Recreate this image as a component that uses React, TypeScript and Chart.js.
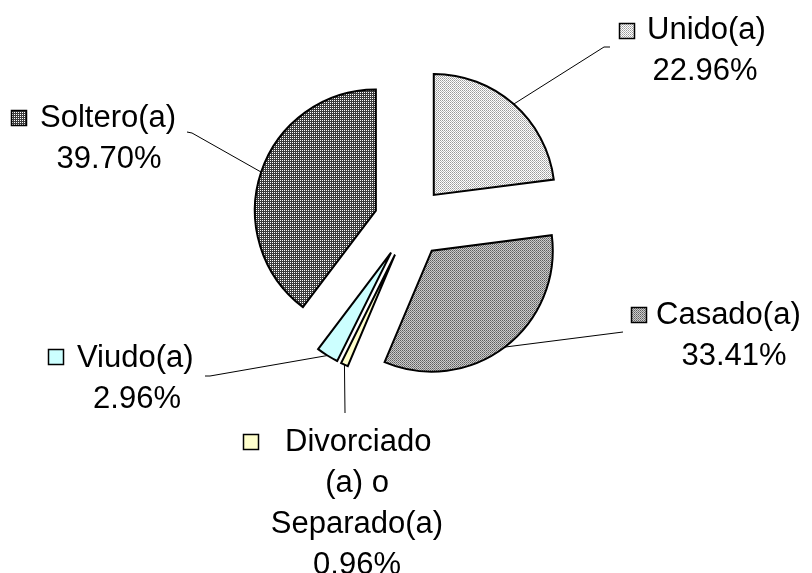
import React, { useEffect, useRef } from "react";
import { Chart, registerables } from "chart.js";

Chart.register(...registerables);

// ---- data ----
const categories = ["Unido(a)", "Casado(a)", "Divorciado (a) o Separado(a)", "Viudo(a)", "Soltero(a)"];
const categoryLines = [["Unido(a)"], ["Casado(a)"], ["Divorciado", "(a) o", "Separado(a)"], ["Viudo(a)"], ["Soltero(a)"]];
const values = [22.96, 33.41, 0.96, 2.96, 39.7];
const percentLabels = ["22.96%", "33.41%", "0.96%", "2.96%", "39.70%"];

// ---- styles / layout ----
const RADIUS = 121;
const EXPLODE = 36;
const FONT = '31px "Liberation Sans", Arial, sans-serif';
const LINE_H = 41;
const KEY = 16;

type LabelLayout = {
  key: [number, number];
  firstX: number;
  firstY: number;
  centerX: number;
  elbow: [number, number][];
};

const labelLayout: LabelLayout[] = [
  { key: [619, 23], firstX: 647, firstY: 39, centerX: 705, elbow: [[604, 47], [610, 47]] },
  { key: [631, 307], firstX: 656, firstY: 324, centerX: 734, elbow: [[623, 332]] },
  { key: [243, 434], firstX: 285, firstY: 451, centerX: 357, elbow: [[345, 413]] },
  { key: [48, 349], firstX: 77, firstY: 367, centerX: 137, elbow: [[210, 376], [205, 376]] },
  { key: [11, 110], firstX: 40, firstY: 127, centerX: 109, elbow: [[192, 133], [187, 132]] },
];

function makePattern(cells: string[][]): CanvasPattern | string {
  const c = document.createElement("canvas");
  const h = cells.length;
  const w = cells[0].length;
  c.width = w;
  c.height = h;
  const x = c.getContext("2d");
  if (!x) return "#aaa";
  for (let j = 0; j < h; j++) {
    for (let i = 0; i < w; i++) {
      x.fillStyle = cells[j][i];
      x.fillRect(i, j, 1, 1);
    }
  }
  const ctx = document.createElement("canvas").getContext("2d");
  return (ctx && ctx.createPattern(c, "repeat")) || "#aaa";
}

export default function App() {
  const ref = useRef<HTMLCanvasElement | null>(null);

  useEffect(() => {
    if (!ref.current) return;
    const W = "#ffffff";
    const fills: (CanvasPattern | string)[] = [
      makePattern([
        ["#9a9a9a", W],
        [W, "#b8b8b8"],
      ]),
      makePattern([
        ["#5e5e5e", "#cccccc"],
        ["#cccccc", "#808080"],
      ]),
      "#ffffcc",
      "#ccffff",
      makePattern([
        [W, "#3c3c3c"],
        ["#3c3c3c", "#3c3c3c"],
      ]),
    ];

    const explodePlugin = {
      id: "explode",
      afterDatasetsUpdate(chart: any) {
        const meta = chart.getDatasetMeta(0);
        const ca = chart.chartArea;
        const cx = (ca.left + ca.right) / 2;
        const cy = (ca.top + ca.bottom) / 2;
        meta.data.forEach((arc: any) => {
          const mid = (arc.startAngle + arc.endAngle) / 2;
          arc.x = cx + Math.cos(mid) * EXPLODE;
          arc.y = cy + Math.sin(mid) * EXPLODE;
        });
      },
    };

    const labelPlugin = {
      id: "sliceLabels",
      afterDraw(chart: any) {
        const ctx: CanvasRenderingContext2D = chart.ctx;
        const meta = chart.getDatasetMeta(0);
        ctx.save();
        meta.data.forEach((arc: any, i: number) => {
          const L = labelLayout[i];
          const mid = (arc.startAngle + arc.endAngle) / 2;
          const sx = arc.x + Math.cos(mid) * arc.outerRadius;
          const sy = arc.y + Math.sin(mid) * arc.outerRadius;
          // leader line
          ctx.strokeStyle = "#000";
          ctx.lineWidth = 1;
          ctx.beginPath();
          ctx.moveTo(sx, sy);
          L.elbow.forEach((p) => ctx.lineTo(p[0], p[1]));
          ctx.stroke();
          // legend key
          ctx.fillStyle = fills[i] as any;
          ctx.fillRect(L.key[0], L.key[1], KEY, KEY);
          ctx.lineWidth = 1.5;
          ctx.strokeRect(L.key[0] + 0.5, L.key[1] + 0.5, KEY - 1, KEY - 1);
          // text
          ctx.font = FONT;
          ctx.fillStyle = "#000";
          ctx.textBaseline = "alphabetic";
          const lines = categoryLines[i];
          ctx.textAlign = "left";
          ctx.fillText(lines[0], L.firstX, L.firstY);
          ctx.textAlign = "center";
          const rest = lines.slice(1).concat([percentLabels[i]]);
          rest.forEach((t, k) => {
            ctx.fillText(t, L.centerX, L.firstY + LINE_H * (k + 1));
          });
        });
        ctx.restore();
      },
    };

    const chart = new Chart(ref.current, {
      type: "pie",
      data: {
        labels: categories,
        datasets: [
          {
            data: values,
            backgroundColor: fills as any,
            borderColor: "#000000",
            borderWidth: 2,
            borderJoinStyle: "miter",
            offset: 0,
          } as any,
        ],
      },
      options: {
        responsive: false,
        animation: false,
        devicePixelRatio: 1,
        events: [],
        radius: RADIUS,
        layout: { padding: { left: 8, right: 0, top: 0, bottom: 129 } },
        plugins: {
          legend: { display: false },
          tooltip: { enabled: false },
        },
      } as any,
      plugins: [explodePlugin, labelPlugin],
    });
    return () => chart.destroy();
  }, []);

  return (
    <div style={{ position: "fixed", left: 0, top: 0, width: 812, height: 573, background: "#fff" }}>
      <canvas ref={ref} width={812} height={573} style={{ width: 812, height: 573, display: "block" }} />
    </div>
  );
}
